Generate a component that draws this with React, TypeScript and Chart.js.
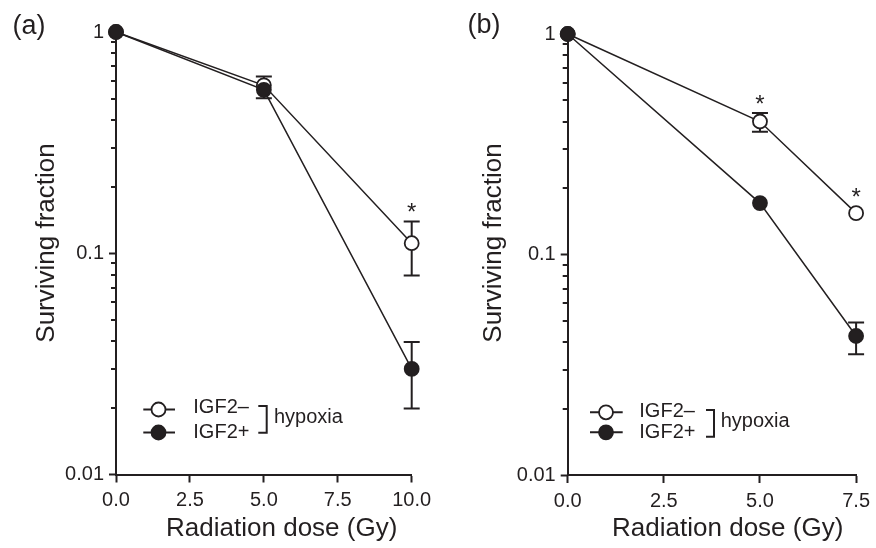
import React, { useEffect, useRef } from 'react';
import { Chart, registerables } from 'chart.js';

Chart.register(...registerables);

const INK = '#231f20';
const FONT = '"Liberation Sans", Arial, Helvetica, sans-serif';

// ---------- data ----------
const seriesLabels = ['IGF2–', 'IGF2+'];
const groupLabel = 'hypoxia';
const xTitle = 'Radiation dose (Gy)';
const yTitle = 'Surviving fraction';
const yMajor = [0.01, 0.1, 1];
const yMinor = [0.02, 0.03, 0.04, 0.05, 0.06, 0.07, 0.08, 0.09, 0.2, 0.3, 0.4, 0.5, 0.6, 0.7, 0.8, 0.9];

// Panel (a)
const doseA = [0, 5, 10];
const negA = [1, 0.574, 0.111];
const negHiA = [null, 0.63, 0.139];
const negLoA = [null, null, 0.0794];
const posA = [1, 0.548, 0.03];
const posHiA = [null, null, 0.0397];
const posLoA = [null, 0.502, 0.0199];
const sigA = [false, false, true];
const xTicksA = [0, 2.5, 5, 7.5, 10];

// Panel (b)
const doseB = [0, 5, 7.5];
const negB = [1, 0.401, 0.154];
const negHiB = [null, 0.438, null];
const negLoB = [null, 0.36, null];
const posB = [1, 0.171, 0.0427];
const posHiB = [null, null, 0.0492];
const posLoB = [null, null, 0.0353];
const sigB = [false, true, true];
const xTicksB = [0, 2.5, 5, 7.5];

type Num = number | null;
interface Series { values: number[]; hi: Num[]; lo: Num[]; sig: boolean[]; filled: boolean; label: string }
interface Layout {
  left: number; right: number; top: number; bottom: number;
  yTitleX: number; yTitleY: number; xTitleX: number; xTitleY: number;
  tagX: number; tagY: number;
  legMarkX: number; legLine0: number; legLine1: number; legRows: number[];
  legTextX: number; legTextY: number[];
  brX0: number; brX1: number; brY0: number; brY1: number; hypX: number; hypY: number;
}
interface Panel { tag: string; dose: number[]; xMax: number; xTicks: number[]; series: Series[]; L: Layout }

const W = 438;
const H = 548;

const panels: Panel[] = [
  {
    tag: '(a)', dose: doseA, xMax: 10, xTicks: xTicksA,
    series: [
      { values: negA, hi: negHiA, lo: negLoA, sig: sigA, filled: false, label: seriesLabels[0] },
      { values: posA, hi: posHiA, lo: posLoA, sig: [false, false, false], filled: true, label: seriesLabels[1] },
    ],
    L: {
      left: 116, right: 411.7, top: 32, bottom: 474.5,
      yTitleX: 46.7, yTitleY: 243, xTitleX: 281.7, xTitleY: 529,
      tagX: 29, tagY: 27,
      legMarkX: 158.5, legLine0: 143.3, legLine1: 175, legRows: [409.5, 432.5],
      legTextX: 193.3, legTextY: [407.5, 432],
      brX0: 258.3, brX1: 266.7, brY0: 406, brY1: 432.7, hypX: 274, hypY: 417.6,
    },
  },
  {
    tag: '(b)', dose: doseB, xMax: 7.5, xTicks: xTicksB,
    series: [
      { values: negB, hi: negHiB, lo: negLoB, sig: sigB, filled: false, label: seriesLabels[0] },
      { values: posB, hi: posHiB, lo: posLoB, sig: [false, false, false], filled: true, label: seriesLabels[1] },
    ],
    L: {
      left: 129.7, right: 422, top: 34, bottom: 475,
      yTitleX: 55.5, yTitleY: 243, xTitleX: 289.7, xTitleY: 529,
      tagX: 46, tagY: 26,
      legMarkX: 168, legLine0: 152, legLine1: 184.7, legRows: [412.3, 432.3],
      legTextX: 201.3, legTextY: [411, 432],
      brX0: 268, brX1: 276, brY0: 410, brY1: 436.7, hypX: 282.7, hypY: 421,
    },
  },
];

function makeDecor(p: Panel) {
  const L = p.L;
  return {
    id: 'decor',
    beforeDatasetsDraw(chart: any) {
      const ctx = chart.ctx;
      const xs = chart.scales.x;
      const ys = chart.scales.y;
      ctx.save();
      ctx.strokeStyle = INK;
      ctx.lineWidth = 2;
      p.series.forEach((s) => {
        p.dose.forEach((d, i) => {
          const x = xs.getPixelForValue(d);
          const yc = ys.getPixelForValue(s.values[i]);
          [s.hi[i], s.lo[i]].forEach((e) => {
            if (e == null) return;
            const ye = ys.getPixelForValue(e);
            ctx.beginPath();
            ctx.moveTo(x, yc);
            ctx.lineTo(x, ye);
            ctx.moveTo(x - 8, ye);
            ctx.lineTo(x + 8, ye);
            ctx.stroke();
          });
        });
      });
      ctx.restore();
    },
    afterDraw(chart: any) {
      const ctx = chart.ctx;
      const xs = chart.scales.x;
      const ys = chart.scales.y;
      const area = chart.chartArea;
      ctx.save();
      ctx.fillStyle = INK;
      ctx.strokeStyle = INK;

      // minor y ticks
      ctx.lineWidth = 2;
      yMinor.forEach((v) => {
        const y = Math.round(ys.getPixelForValue(v));
        ctx.beginPath();
        ctx.moveTo(area.left - 5, y);
        ctx.lineTo(area.left, y);
        ctx.stroke();
      });

      // axis titles
      ctx.font = `26px ${FONT}`;
      ctx.textAlign = 'center';
      ctx.textBaseline = 'middle';
      ctx.fillText(xTitle, L.xTitleX, L.xTitleY);
      ctx.save();
      ctx.translate(L.yTitleX, L.yTitleY);
      ctx.rotate(-Math.PI / 2);
      ctx.fillText(yTitle, 0, 0);
      ctx.restore();

      // panel tag
      ctx.font = `27px ${FONT}`;
      ctx.fillText(p.tag, L.tagX, L.tagY);

      // significance asterisks
      ctx.font = `24px ${FONT}`;
      ctx.textBaseline = 'alphabetic';
      p.series.forEach((s) => {
        s.sig.forEach((flag, i) => {
          if (!flag) return;
          const x = xs.getPixelForValue(p.dose[i]);
          let top = ys.getPixelForValue(s.values[i]) - 7;
          if (s.hi[i] != null) top = Math.min(top, ys.getPixelForValue(s.hi[i] as number));
          ctx.fillText('*', x, top - 15 + 13.5);
        });
      });

      // legend
      p.series.forEach((s, k) => {
        const y = L.legRows[k];
        ctx.lineWidth = 2;
        ctx.beginPath();
        ctx.moveTo(L.legLine0, y);
        ctx.lineTo(L.legLine1, y);
        ctx.stroke();
        ctx.beginPath();
        ctx.arc(L.legMarkX, y, 7, 0, Math.PI * 2);
        ctx.fillStyle = s.filled ? INK : '#ffffff';
        ctx.fill();
        ctx.lineWidth = 1.8;
        ctx.stroke();
        ctx.fillStyle = INK;
        ctx.font = `20px ${FONT}`;
        ctx.textAlign = 'left';
        ctx.textBaseline = 'middle';
        ctx.fillText(s.label, L.legTextX, L.legTextY[k]);
      });
      ctx.lineWidth = 2;
      ctx.beginPath();
      ctx.moveTo(L.brX0, L.brY0);
      ctx.lineTo(L.brX1, L.brY0);
      ctx.lineTo(L.brX1, L.brY1);
      ctx.lineTo(L.brX0, L.brY1);
      ctx.stroke();
      ctx.fillText(groupLabel, L.hypX, L.hypY);
      ctx.restore();
    },
  };
}

function PanelChart({ p }: { p: Panel }) {
  const ref = useRef<HTMLCanvasElement | null>(null);
  useEffect(() => {
    if (!ref.current) return;
    const L = p.L;
    const datasets = p.series.map((s) => ({
      label: s.label,
      data: p.dose.map((d, i) => ({ x: d, y: s.values[i] })),
      showLine: true,
      borderColor: INK,
      borderWidth: 1.5,
      pointRadius: 7,
      pointHoverRadius: 7,
      pointBorderWidth: 1.8,
      pointBackgroundColor: s.filled ? INK : '#ffffff',
      pointBorderColor: INK,
      clip: false as any,
      order: s.filled ? 1 : 2,
    }));
    const chart = new Chart(ref.current, {
      type: 'scatter',
      data: { datasets },
      options: {
        animation: false,
        responsive: false,
        devicePixelRatio: 1,
        events: [],
        layout: { padding: { left: 0, top: L.top, right: W - L.right, bottom: 0 } },
        plugins: { legend: { display: false }, tooltip: { enabled: false }, title: { display: false } },
        scales: {
          x: {
            type: 'linear',
            min: 0,
            max: p.xMax,
            afterBuildTicks: (s: any) => { s.ticks = p.xTicks.map((v) => ({ value: v })); },
            afterFit: (s: any) => { s.height = H - L.bottom; },
            border: { display: true, color: INK, width: 2 },
            grid: { drawOnChartArea: false, drawTicks: true, tickLength: 8, tickColor: INK, tickWidth: 2 },
            ticks: {
              color: INK,
              font: { family: FONT, size: 20 },
              padding: 6,
              maxRotation: 0,
              autoSkip: false,
              callback: (v: any) => Number(v).toFixed(1),
            },
          },
          y: {
            type: 'logarithmic',
            min: 0.01,
            max: 1,
            afterBuildTicks: (s: any) => { s.ticks = yMajor.map((v) => ({ value: v })); },
            afterFit: (s: any) => { s.width = L.left; },
            border: { display: true, color: INK, width: 2 },
            grid: { drawOnChartArea: false, drawTicks: true, tickLength: 7, tickColor: INK, tickWidth: 2 },
            ticks: {
              color: INK,
              font: { family: FONT, size: 20 },
              padding: 5,
              autoSkip: false,
              callback: (v: any) => String(v),
            },
          },
        },
      },
      plugins: [makeDecor(p)],
    } as any);
    return () => chart.destroy();
  }, [p]);
  return <canvas ref={ref} width={W} height={H} style={{ width: W, height: H, display: 'block' }} />;
}

export default function App() {
  return (
    <div style={{ position: 'absolute', left: 0, top: 0, width: 876, height: 548, background: '#ffffff', display: 'flex' }}>
      {panels.map((p) => (
        <PanelChart key={p.tag} p={p} />
      ))}
    </div>
  );
}
